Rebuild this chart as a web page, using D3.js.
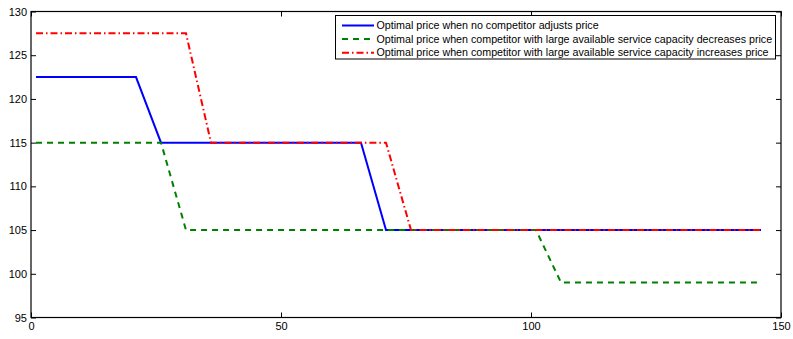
<!DOCTYPE html>
<html><head><meta charset="utf-8">
<script src="https://cdn.jsdelivr.net/npm/d3@7"></script>
<style>body{margin:0;background:#fff;} svg{display:block;}</style>
</head><body>
<svg id="c" width="793" height="339"></svg>
<script>
const xValues = [1,6,11,16,21,26,31,36,41,46,51,56,61,66,71,76,81,86,91,96,101,106,111,116,121,126,131,136,141,146];
const noAdjust  = [122.5,122.5,122.5,122.5,122.5,115,115,115,115,115,115,115,115,115,105,105,105,105,105,105,105,105,105,105,105,105,105,105,105,105];
const decreases = [115,115,115,115,115,115,105,105,105,105,105,105,105,105,105,105,105,105,105,105,105,99,99,99,99,99,99,99,99,99];
const increases = [127.5,127.5,127.5,127.5,127.5,127.5,127.5,115,115,115,115,115,115,115,115,105,105,105,105,105,105,105,105,105,105,105,105,105,105,105];
const seriesNames = [
  "Optimal price when no competitor adjusts price",
  "Optimal price when competitor with large available service capacity decreases price",
  "Optimal price when competitor with large available service capacity increases price"
];
const xTicks = [0,50,100,150];
const yTicks = [95,100,105,110,115,120,125,130];

const svg = d3.select("#c");
const L = 31, R = 781, T = 11.5, B = 317.5;
const x = d3.scaleLinear().domain([0,150]).range([L,R]);
const y = d3.scaleLinear().domain([95,130]).range([B,T]);

const series = [
  {name: seriesNames[0], vals: noAdjust,  color: "#0000ff", dash: null},
  {name: seriesNames[1], vals: decreases, color: "#008000", dash: "6,5"},
  {name: seriesNames[2], vals: increases, color: "#ff0000", dash: "7,3,1.5,3"}
];

const font = "Liberation Sans, Arial, Helvetica, sans-serif";

// axes box
const ax = svg.append("g");
ax.append("g").attr("transform",`translate(0,${B})`)
  .call(d3.axisBottom(x).tickValues(xTicks).tickSize(-5).tickPadding(5).tickFormat(d3.format("d")))
  .call(g=>{g.select(".domain").remove();});
ax.append("g").attr("transform",`translate(0,${T})`)
  .call(d3.axisTop(x).tickValues(xTicks).tickSize(-5).tickFormat(""))
  .call(g=>{g.select(".domain").remove();});
ax.append("g").attr("transform",`translate(${L},0)`)
  .call(d3.axisLeft(y).tickValues(yTicks).tickSize(-5).tickPadding(4).tickFormat(d3.format("d")))
  .call(g=>{g.select(".domain").remove();});
ax.append("g").attr("transform",`translate(${R},0)`)
  .call(d3.axisRight(y).tickValues(yTicks).tickSize(-5).tickFormat(""))
  .call(g=>{g.select(".domain").remove();});
ax.selectAll("text").attr("font-family",font).attr("font-size",11).attr("fill","#000");
ax.selectAll(".tick line").attr("stroke","#000");

// lines
const line = d3.line().x((d,i)=>x(xValues[i])).y(d=>y(d));
series.forEach(s=>{
  svg.append("path").datum(s.vals).attr("d",line)
    .attr("fill","none").attr("stroke",s.color).attr("stroke-width",2)
    .attr("stroke-dasharray",s.dash);
});

svg.append("rect").attr("x",L).attr("y",T).attr("width",R-L).attr("height",B-T)
  .attr("fill","none").attr("stroke","#000").attr("stroke-width",1.2);

// legend
const lg = svg.append("g");
lg.append("rect").attr("x",335.5).attr("y",15.5).attr("width",440).attr("height",43.5)
  .attr("fill","#fff").attr("stroke","#000").attr("stroke-width",1);
series.forEach((s,i)=>{
  const yy = 25.5 + i*13.6;
  lg.append("line").attr("x1",342).attr("x2",374).attr("y1",yy).attr("y2",yy)
    .attr("stroke",s.color).attr("stroke-width",2).attr("stroke-dasharray",s.dash);
  lg.append("text").attr("x",376.5).attr("y",yy).attr("dy","0.35em")
    .attr("font-family",font).attr("font-size",10.7).attr("fill","#000").text(s.name);
});
</script>
</body></html>
